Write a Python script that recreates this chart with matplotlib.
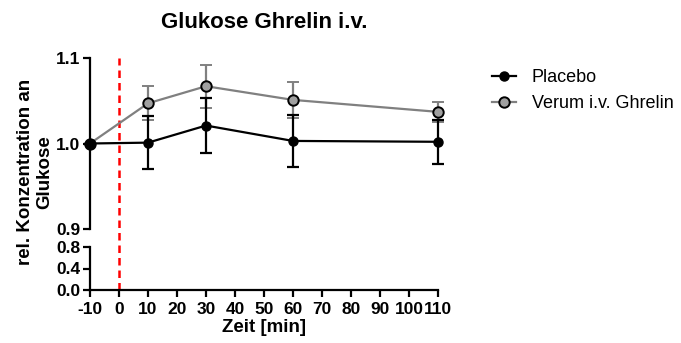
import numpy as np
import matplotlib.pyplot as plt
from matplotlib.lines import Line2D

plt.rcParams['font.family'] = ['Liberation Sans', 'DejaVu Sans']

# time points (min) and relative glucose values
zeit = [-10, 10, 30, 60, 110]
placebo = [1.000, 1.001, 1.021, 1.003, 1.002]
placebo_err = [0.000, 0.031, 0.032, 0.030, 0.026]
verum = [1.000, 1.047, 1.067, 1.051, 1.037]
verum_err = [0.000, 0.020, 0.025, 0.021, 0.012]

x_ticks = list(range(-10, 111, 10))
top_ticks = [0.9, 1.0, 1.1]
bottom_ticks = [0.0, 0.4, 0.8]

W, H = 681, 343
fig = plt.figure(figsize=(W / 100, H / 100), dpi=100)

left, right = 90, 438
top_y0, top_y1 = 58, 229
bot_y0, bot_y1 = 247, 290

def box(y0, y1):
    return [left / W, 1 - y1 / H, (right - left) / W, (y1 - y0) / H]

ax_top = fig.add_axes(box(top_y0, top_y1))
ax_bot = fig.add_axes(box(bot_y0, bot_y1))

for ax in (ax_top, ax_bot):
    ax.set_xlim(-10, 110)
    ax.patch.set_visible(False)
    ax.spines['top'].set_visible(False)
    ax.spines['right'].set_visible(False)
    ax.spines['left'].set_linewidth(1.6)
    ax.spines['bottom'].set_linewidth(1.6)
    ax.tick_params(width=1.6, length=5, labelsize=12.5, pad=2)

ax_top.set_ylim(0.9, 1.1)
ax_top.set_yticks(top_ticks)
ax_top.set_yticklabels([f'{v:.1f}' for v in top_ticks], fontweight='bold')
ax_top.spines['bottom'].set_visible(False)
ax_top.set_xticks([])

ax_bot.set_ylim(0.0, 0.8)
ax_bot.set_yticks(bottom_ticks)
ax_bot.set_yticklabels([f'{v:.1f}' for v in bottom_ticks], fontweight='bold')
ax_bot.set_xticks(x_ticks)
ax_bot.set_xticklabels([str(t) for t in x_ticks], fontweight='bold')
ax_bot.tick_params(axis='x', pad=4)

# the two groups
ax_top.errorbar(zeit, verum, yerr=verum_err, color='#808080', lw=1.6,
                elinewidth=1.6, capsize=4.5, capthick=1.6,
                marker='o', ms=7.5, mfc='#a0a0a0', mec='black', mew=1.4,
                clip_on=False, zorder=3)
ax_top.errorbar(zeit, placebo, yerr=placebo_err, color='black', lw=1.6,
                elinewidth=1.6, capsize=4.5, capthick=1.6,
                marker='o', ms=6.5, mfc='black', mec='black',
                clip_on=False, zorder=4)

# injection at t = 0, spanning both panels
frac_bottom = (top_y1 - bot_y1) / (top_y1 - top_y0)
ax_top.axvline(0, ymin=frac_bottom, ymax=1, color='red', lw=1.8,
               ls=(0, (3, 2)), clip_on=False, zorder=1)

handles = [
    Line2D([], [], color='black', lw=1.6, marker='o', ms=6.5,
           mfc='black', mec='black'),
    Line2D([], [], color='#808080', lw=1.6, marker='o', ms=7.5,
           mfc='#a0a0a0', mec='black', mew=1.4),
]
fig.legend(handles, ['Placebo', 'Verum i.v. Ghrelin'], loc='upper left',
           bbox_to_anchor=(476 / W, 1 - 53 / H), frameon=False,
           fontsize=13, handlelength=1.3, handletextpad=0.9,
           labelspacing=0.5)

fig.text((left + right) / 2 / W, 1 - 23 / H, 'Glukose Ghrelin i.v.',
         ha='center', va='center', fontsize=16, fontweight='bold')
fig.text(35 / W, 1 - 172 / H, 'rel. Konzentration an\nGlukose',
         ha='center', va='center', rotation=90, fontsize=13.5,
         fontweight='bold', linespacing=1.15)
fig.text((left + right) / 2 / W, 1 - 328 / H, 'Zeit [min]',
         ha='center', va='center', fontsize=13.5, fontweight='bold')

fig.savefig('out.png', dpi=100)
